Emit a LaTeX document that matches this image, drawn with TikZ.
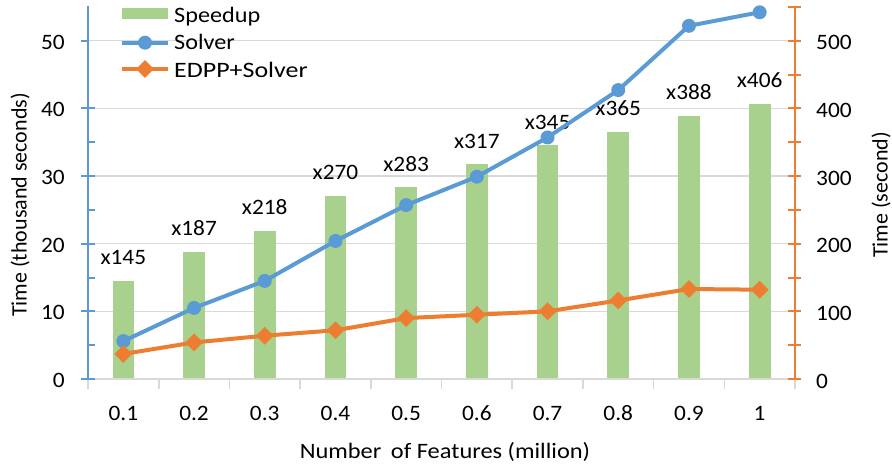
\documentclass[tikz,border=0pt]{standalone}
\usepackage{fontspec}
\setmainfont{Carlito}
\usetikzlibrary{shapes.geometric}
\definecolor{cblue}{HTML}{5B9BD5}
\definecolor{corange}{HTML}{ED7D31}
\definecolor{cgreen}{HTML}{A9D18E}
\definecolor{cgrid}{HTML}{D9D9D9}
% slightly widened lettering
\newcommand{\wnum}[1]{\scalebox{1.06}[1]{#1}}
\newcommand{\wtxt}[2][1.1]{\scalebox{#1}[1]{#2}}
\tikzset{
  lbl/.style={font=\fontsize{22}{26}\selectfont, inner sep=0pt},
  gridln/.style={cgrid, line width=1.6pt},
  barbox/.style={fill=cgreen, draw=none, inner sep=0pt, minimum width=21.7pt, anchor=south},
  sline/.style={cblue, line width=4pt, line join=round, line cap=round},
  eline/.style={corange, line width=4pt, line join=round, line cap=round},
  smark/.style={circle, fill=cblue, draw=none, inner sep=0pt, minimum size=14pt},
  emark/.style={diamond, fill=corange, draw=none, inner sep=0pt, minimum size=18pt},
  laxis/.style={cblue, line width=2pt},
  raxis/.style={corange, line width=2pt},
}
\begin{document}
\begin{tikzpicture}[x=1pt,y=-1pt]
\useasboundingbox (0,0) rectangle (892,465);

% horizontal gridlines (every 10 thousand seconds)
\foreach \g in {1,...,5}{
  \pgfmathsetmacro\gy{379-67.66*\g}
  \draw[gridln] (88,\gy) -- (795,\gy);
}

% speedup bars with their labels, and category labels
\foreach \v/\xl [count=\i] in {145/0.1,187/0.2,218/0.3,270/0.4,283/0.5,317/0.6,345/0.7,365/0.8,388/0.9,406/1}{
  \pgfmathsetmacro\cx{123.35+70.7*(\i-1)}
  \pgfmathsetmacro\bh{0.6766*\v}
  \pgfmathsetmacro\bt{379-\bh}
  \node[barbox, minimum height=\bh pt] (bar\i) at (\cx,379) {};
  \node[lbl, anchor=base] (sp\i) at (\cx,\bt-16.5) {\wnum{x\v}};
  \node[lbl, anchor=base] (xl\i) at (\cx,420) {\wnum{\xl}};
}

% category axis
\draw[gridln] (88,379) -- (795,379);
\foreach \k in {0,...,10}{
  \pgfmathsetmacro\tx{88+70.7*\k}
  \draw[gridln] (\tx,379) -- (\tx,389);
}

% primary axis (thousand seconds)
\draw[laxis] (88,380) -- (88,6);
\foreach \t in {0,10,20,30,40}{
  \pgfmathsetmacro\ty{379-6.766*\t}
  \draw[laxis] (81,\ty) -- (95,\ty);
  \node[lbl, anchor=base east] (ly\t) at (65,\ty+8.5) {\wnum{\t}};
}
\draw[laxis] (81,40.7) -- (88,40.7);
\node[lbl, anchor=base east] (ly50) at (65,40.7+8.5) {\wnum{50}};
\foreach \t in {5,15,25,35}{
  \pgfmathsetmacro\ty{379-6.766*\t}
  \draw[laxis] (88,\ty) -- (95,\ty);
}

% secondary axis (seconds)
\draw[raxis] (795,380) -- (795,6);
\foreach \t in {0,50,...,550}{
  \pgfmathsetmacro\ty{379-0.6766*\t}
  \draw[raxis] (788,\ty) -- (801,\ty);
}
\foreach \t in {0,100,...,500}{
  \pgfmathsetmacro\ty{379-0.6766*\t}
  \node[lbl, anchor=base west] (ry\t) at (816,\ty+9) {\wnum{\t}};
}

% axis titles
\node[lbl, anchor=base, rotate=90] (ytitle) at (26.7,205) {Time (thousand seconds)};
\node[lbl, anchor=base, rotate=90] (y2title) at (887.5,195) {Time (second)};
\node[lbl, anchor=base] (xtitle) at (445,458) {\wtxt[1.11]{Number\, of Features (million)}};

% Solver series (thousand seconds)
\foreach \v [count=\i] in {5.6,10.5,14.5,20.4,25.7,29.9,35.7,42.7,52.2,54.2}{
  \coordinate (s\i) at ({123.35+70.7*(\i-1)},{379-6.766*\v});
}
\draw[sline] (s1) \foreach \k in {2,...,10}{ -- (s\k) };
\foreach \i in {1,...,10}{ \node[smark] (sm\i) at (s\i) {}; }

% EDPP+Solver series (seconds)
\foreach \v [count=\i] in {37,54,64,72,90,95,100,116,133,132}{
  \coordinate (e\i) at ({123.35+70.7*(\i-1)},{379-0.6766*\v});
}
\draw[eline] (e1) \foreach \k in {2,...,10}{ -- (e\k) };
\foreach \i in {1,...,10}{ \node[emark] (em\i) at (e\i) {}; }

% legend
\node[fill=cgreen, inner sep=0pt, minimum width=46.6pt, minimum height=11pt] (lgbar) at (145,13.8) {};
\node[lbl, anchor=base west] (lgt1) at (174,22.3) {\wtxt{Speedup}};
\coordinate (lgsa) at (121.7,42.7);
\coordinate (lgsb) at (168.3,42.7);
\draw[sline, line cap=butt] (lgsa) -- (lgsb);
\node[smark] (lgsm) at (145,42.7) {};
\node[lbl, anchor=base west] (lgt2) at (174,49.3) {\wtxt{Solver}};
\coordinate (lgea) at (121.7,69);
\coordinate (lgeb) at (168.3,69);
\draw[eline, line cap=butt] (lgea) -- (lgeb);
\node[emark] (lgem) at (145,69) {};
\node[lbl, anchor=base west] (lgt3) at (174,77.3) {\wtxt[1.18]{EDPP+Solver}};
\end{tikzpicture}
\end{document}
